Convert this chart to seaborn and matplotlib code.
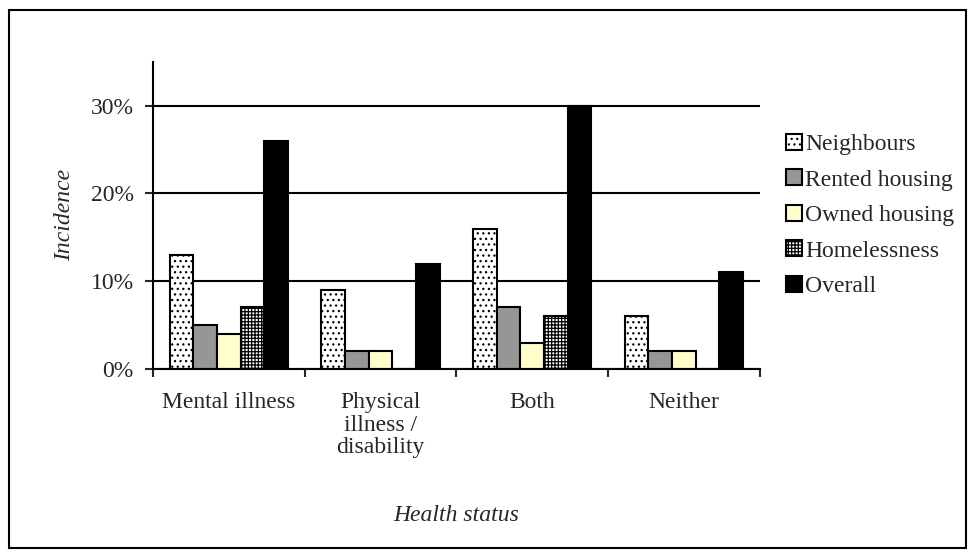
import pandas as pd
import numpy as np
import matplotlib.pyplot as plt
import seaborn as sns
from matplotlib.patches import Rectangle

# data (percent)
categories = ['Mental illness', 'Physical\nillness /\ndisability', 'Both', 'Neither']
series = ['Neighbours', 'Rented housing', 'Owned housing', 'Homelessness', 'Overall']
neighbours = [13, 9, 16, 6]
rented = [5, 2, 7, 2]
owned = [4, 2, 3, 2]
homeless = [7, 0, 6, 0]
overall = [26, 12, 30, 11]

colors = ['white', '#969696', '#FFFFCC', 'white', 'black']
hatches = ['...', None, None, '+++++', None]

rows = []
for name, vals in zip(series, [neighbours, rented, owned, homeless, overall]):
    for cat, v in zip(categories, vals):
        rows.append({'status': cat, 'series': name, 'value': v})
df = pd.DataFrame(rows)

sns.set_style('white')
plt.rcParams['font.family'] = ['Liberation Serif', 'DejaVu Serif']
plt.rcParams['hatch.linewidth'] = 0.9

FS = 17

fig = plt.figure(figsize=(9.75, 5.58), dpi=100)
ax = fig.add_axes([0.157, 0.339, 0.622, 0.55])

sns.barplot(data=df, x='status', y='value', hue='series', palette=colors,
            edgecolor='black', linewidth=1.5, width=0.78, saturation=1,
            legend=False, ax=ax)

for cont, h in zip(ax.containers, hatches):
    for p in cont.patches:
        if h:
            p.set_hatch(h)

ax.set_ylim(0, 35)
ax.set_xlim(-0.5, 3.5)
ax.set_yticks([0, 10, 20, 30])
ax.set_yticklabels(['0%', '10%', '20%', '30%'], fontsize=FS)
ax.yaxis.grid(True, color='black', linewidth=1.5)
ax.set_axisbelow(True)

# category boundary ticks on x axis
ax.set_xticks([-0.5, 0.5, 1.5, 2.5, 3.5], minor=False)
ax.set_xticklabels([])
ax.set_xticks(range(len(categories)), minor=True)
ax.set_xticklabels(categories, minor=True, fontsize=FS, va='top', linespacing=1.07)
ax.tick_params(axis='x', which='minor', length=0, pad=17)
ax.tick_params(axis='x', which='major', length=6, width=1.5, direction='out', bottom=True)
ax.tick_params(axis='y', length=6, width=1.5, direction='out', left=True, pad=8)

for s in ['top', 'right']:
    ax.spines[s].set_visible(False)
for s in ['left', 'bottom']:
    ax.spines[s].set_linewidth(1.5)
    ax.spines[s].set_color('black')

ax.set_xlabel('Health status', fontsize=FS, style='italic', labelpad=34)
ax.set_ylabel('Incidence', fontsize=FS, style='italic', labelpad=11)

handles = [c.patches[0] for c in ax.containers]
ax.legend(handles, series, loc='center left', bbox_to_anchor=(1.044, 0.50),
          frameon=False, fontsize=FS, handlelength=0.68, handleheight=0.68,
          handletextpad=0.12, labelspacing=0.6, borderaxespad=0, borderpad=0)

fig.patches.append(Rectangle((0.009, 0.018), 0.982, 0.964, transform=fig.transFigure,
                             fill=False, edgecolor='black', linewidth=1.5))

fig.savefig('out.png', dpi=100)
